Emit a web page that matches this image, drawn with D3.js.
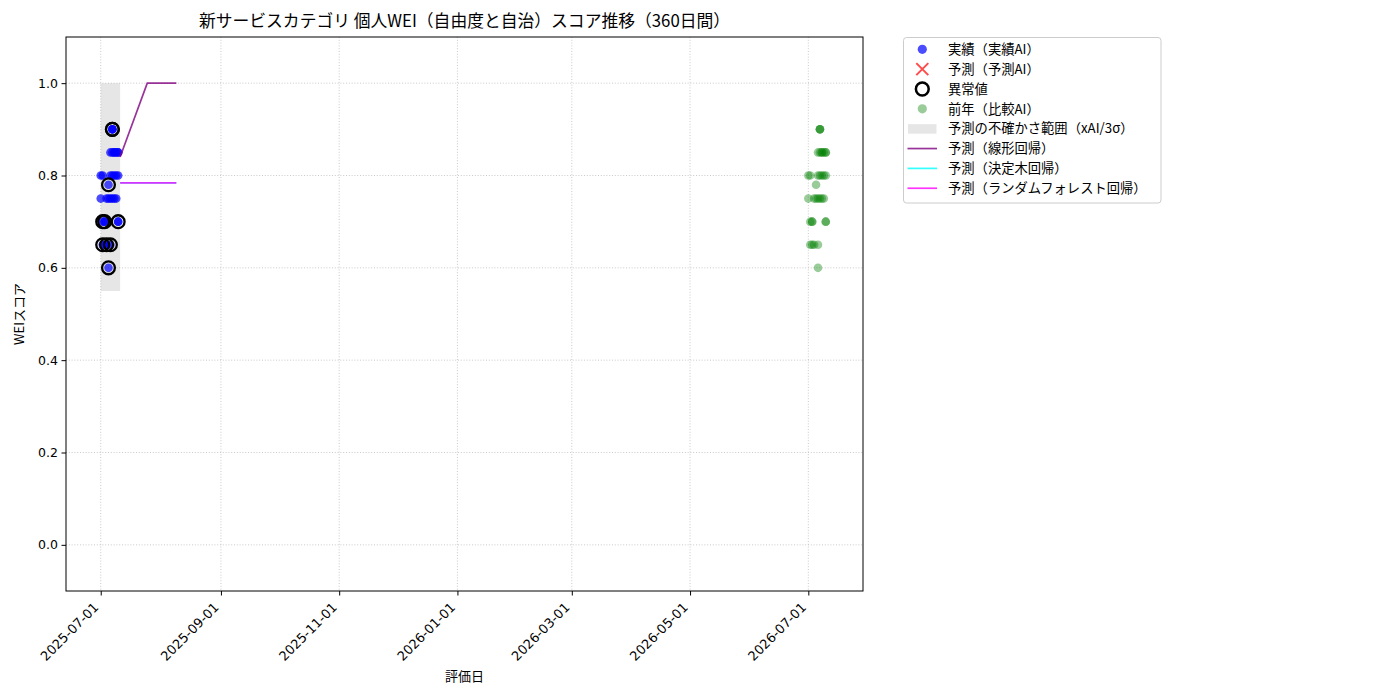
<!DOCTYPE html>
<html><head><meta charset="utf-8">
<script src="https://cdn.jsdelivr.net/npm/d3@7"></script>
<style>body{margin:0;background:#fff}svg{display:block}text{font-family:"Noto Sans CJK JP","Noto Sans",sans-serif;fill:#000}.tick text{font-family:"DejaVu Sans",sans-serif}</style>
</head><body>
<svg id="c" width="1400" height="700"></svg>
<script>
// ---- data ----
const xTickLabels = ["2025-07-01","2025-09-01","2025-11-01","2026-01-01","2026-03-01","2026-05-01","2026-07-01"];
const yTickValues = [0.0,0.2,0.4,0.6,0.8,1.0];

// actual scores (実績AI)
const actualDates = [
  "2025-07-07","2025-07-07","2025-07-07",
  "2025-07-06","2025-07-07","2025-07-08","2025-07-08","2025-07-09","2025-07-10","2025-07-10",
  "2025-07-01","2025-07-02","2025-07-06","2025-07-07","2025-07-08","2025-07-09","2025-07-10",
  "2025-07-05",
  "2025-07-01","2025-07-04","2025-07-05","2025-07-06","2025-07-07","2025-07-08","2025-07-09",
  "2025-07-02","2025-07-03","2025-07-03","2025-07-10","2025-07-10",
  "2025-07-02","2025-07-03","2025-07-04","2025-07-06",
  "2025-07-05"];
const actualValues = [
  0.90,0.90,0.90,
  0.85,0.85,0.85,0.85,0.85,0.85,0.85,
  0.80,0.80,0.80,0.80,0.80,0.80,0.80,
  0.78,
  0.75,0.75,0.75,0.75,0.75,0.75,0.75,
  0.70,0.70,0.70,0.70,0.70,
  0.65,0.65,0.65,0.65,
  0.60];
// anomalies (異常値)
const anomalyDates = ["2025-07-07","2025-07-07","2025-07-05","2025-07-02","2025-07-03","2025-07-10","2025-07-02","2025-07-04","2025-07-06","2025-07-05"];
const anomalyValues = [0.90,0.90,0.78,0.70,0.70,0.70,0.65,0.65,0.65,0.60];

// previous year (比較AI)
const prevDates = [
  "2026-07-07","2026-07-07","2026-07-07",
  "2026-07-06","2026-07-07","2026-07-08","2026-07-08","2026-07-09","2026-07-10","2026-07-10",
  "2026-07-01","2026-07-02","2026-07-06","2026-07-07","2026-07-08","2026-07-09","2026-07-10",
  "2026-07-05",
  "2026-07-01","2026-07-04","2026-07-05","2026-07-06","2026-07-07","2026-07-08","2026-07-09",
  "2026-07-02","2026-07-03","2026-07-03","2026-07-10","2026-07-10",
  "2026-07-02","2026-07-03","2026-07-04","2026-07-06",
  "2026-07-06"];
const prevValues = [
  0.90,0.90,0.90,
  0.85,0.85,0.85,0.85,0.85,0.85,0.85,
  0.80,0.80,0.80,0.80,0.80,0.80,0.80,
  0.78,
  0.75,0.75,0.75,0.75,0.75,0.75,0.75,
  0.70,0.70,0.70,0.70,0.70,
  0.65,0.65,0.65,0.65,
  0.60];

// uncertainty band
const bandDates = ["2025-07-01","2025-07-11"];
const bandLow = [0.55,0.55];
const bandHigh = [1.0,1.0];

// forecasts
const linearDates = ["2025-07-11","2025-07-25","2025-08-09"];
const linearValues = [0.84,1.0,1.0];
const treeDates = ["2025-07-11","2025-08-09"];
const treeValues = [0.784,0.784];
const rfDates = ["2025-07-11","2025-08-09"];
const rfValues = [0.784,0.784];

const legendLabels = ["実績（実績AI）","予測（予測AI）","異常値","前年（比較AI）","予測の不確かさ範囲（xAI/3σ）","予測（線形回帰）","予測（決定木回帰）","予測（ランダムフォレスト回帰）"];

// ---- drawing ----
const P = d3.timeParse("%Y-%m-%d");
const svg = d3.select("#c");
const L = 66, R = 863, T = 37, B = 591;
const x = d3.scaleTime().domain([new Date(2025,5,13,2), new Date(2026,6,29,5)]).range([L,R]);
const y = d3.scaleLinear().domain([-0.1,1.1]).range([B,T]);

// grid
const g = svg.append("g");
g.selectAll(".gx").data(xTickLabels).join("line")
  .attr("x1",d=>x(P(d))).attr("x2",d=>x(P(d))).attr("y1",T).attr("y2",B)
  .attr("stroke","#bdbdbd").attr("stroke-width",0.8).attr("stroke-dasharray","1,1.8");
g.selectAll(".gy").data(yTickValues).join("line")
  .attr("x1",L).attr("x2",R).attr("y1",d=>y(d)).attr("y2",d=>y(d))
  .attr("stroke","#bdbdbd").attr("stroke-width",0.8).attr("stroke-dasharray","1,1.8");

// band
const bandData = bandDates.map((d,i)=>({d:P(d),lo:bandLow[i],hi:bandHigh[i]}));
svg.append("path").datum(bandData)
  .attr("d",d3.area().x(d=>x(d.d)).y0(d=>y(d.lo)).y1(d=>y(d.hi)))
  .attr("fill","gray").attr("fill-opacity",0.2);

// actual points
svg.append("g").selectAll("circle").data(actualDates.map((d,i)=>[P(d),actualValues[i]])).join("circle")
  .attr("cx",d=>x(d[0])).attr("cy",d=>y(d[1])).attr("r",4.3)
  .attr("fill","blue").attr("fill-opacity",0.7);

// anomalies
svg.append("g").selectAll("circle").data(anomalyDates.map((d,i)=>[P(d),anomalyValues[i]])).join("circle")
  .attr("cx",d=>x(d[0])).attr("cy",d=>y(d[1])).attr("r",6.4)
  .attr("fill","none").attr("stroke","#000").attr("stroke-width",2.3);

// prev year
svg.append("g").selectAll("circle").data(prevDates.map((d,i)=>[P(d),prevValues[i]])).join("circle")
  .attr("cx",d=>x(d[0])).attr("cy",d=>y(d[1])).attr("r",4.3)
  .attr("fill","green").attr("fill-opacity",0.4);

// lines
const line = d3.line().x(d=>x(d[0])).y(d=>y(d[1]));
function drawLine(ds,vs,color){
  svg.append("path").datum(ds.map((d,i)=>[P(d),vs[i]])).attr("d",line)
    .attr("fill","none").attr("stroke",color).attr("stroke-opacity",0.8).attr("stroke-width",1.7);
}
drawLine(linearDates,linearValues,"purple");
drawLine(treeDates,treeValues,"cyan");
drawLine(rfDates,rfValues,"magenta");

// frame
svg.append("rect").attr("x",L).attr("y",T).attr("width",R-L).attr("height",B-T)
  .attr("fill","none").attr("stroke","#000").attr("stroke-width",1);

// axes
const xa = svg.append("g").attr("transform",`translate(0,${B})`)
  .call(d3.axisBottom(x).tickValues(xTickLabels.map(P)).tickSize(4.5).tickFormat(d3.timeFormat("%Y-%m-%d")));
xa.select(".domain").remove();
xa.selectAll("text").attr("font-size",13).attr("text-anchor","end")
  .attr("transform","translate(-5,14) rotate(-45)").attr("dy","0.35em").attr("y",0).attr("x",0);
const ya = svg.append("g").attr("transform",`translate(${L},0)`)
  .call(d3.axisLeft(y).tickValues(yTickValues).tickSize(4.5).tickFormat(d3.format(".1f")));
ya.select(".domain").remove();
ya.selectAll("text").attr("font-size",12.5).attr("x",-8);
svg.selectAll(".tick line").attr("stroke","#000");

// titles
svg.append("text").attr("x",(L+R)/2).attr("y",27).attr("text-anchor","middle").attr("font-size",16.8)
  .text("新サービスカテゴリ 個人WEI（自由度と自治）スコア推移（360日間）");
svg.append("text").attr("x",(L+R)/2).attr("y",681).attr("text-anchor","middle").attr("font-size",13).text("評価日");
svg.append("text").attr("transform",`translate(24,${(T+B)/2}) rotate(-90)`).attr("text-anchor","middle").attr("font-size",13).text("WEIスコア");

// legend
const lg = svg.append("g");
lg.append("rect").attr("x",903.5).attr("y",37.5).attr("width",257.5).attr("height",165.5).attr("rx",3)
  .attr("fill","#fff").attr("fill-opacity",0.8).attr("stroke","#cccccc");
const ly0 = 49.3, lstep = 19.85, mx = 922.3;
legendLabels.forEach((t,i)=>{
  const yy = ly0 + i*lstep;
  lg.append("text").attr("x",948).attr("y",yy).attr("dy","0.36em").attr("font-size",13.3).text(t);
});
lg.append("circle").attr("cx",mx).attr("cy",ly0).attr("r",4.6).attr("fill","blue").attr("fill-opacity",0.7);
const xy = ly0+lstep;
lg.append("path").attr("d",`M${mx-6},${xy-6}L${mx+6},${xy+6}M${mx-6},${xy+6}L${mx+6},${xy-6}`)
  .attr("stroke","red").attr("stroke-opacity",0.7).attr("stroke-width",2);
lg.append("circle").attr("cx",mx).attr("cy",ly0+2*lstep).attr("r",6.4).attr("fill","none").attr("stroke","#000").attr("stroke-width",2.5);
lg.append("circle").attr("cx",mx).attr("cy",ly0+3*lstep).attr("r",4.6).attr("fill","green").attr("fill-opacity",0.4);
lg.append("rect").attr("x",908).attr("y",ly0+4*lstep-4.5).attr("width",28.5).attr("height",9.5).attr("fill","gray").attr("fill-opacity",0.2);
["purple","cyan","magenta"].forEach((c,k)=>{
  const yy = ly0+(5+k)*lstep;
  lg.append("line").attr("x1",907.5).attr("x2",937).attr("y1",yy).attr("y2",yy)
    .attr("stroke",c).attr("stroke-opacity",0.8).attr("stroke-width",1.7);
});
</script>
</body></html>
